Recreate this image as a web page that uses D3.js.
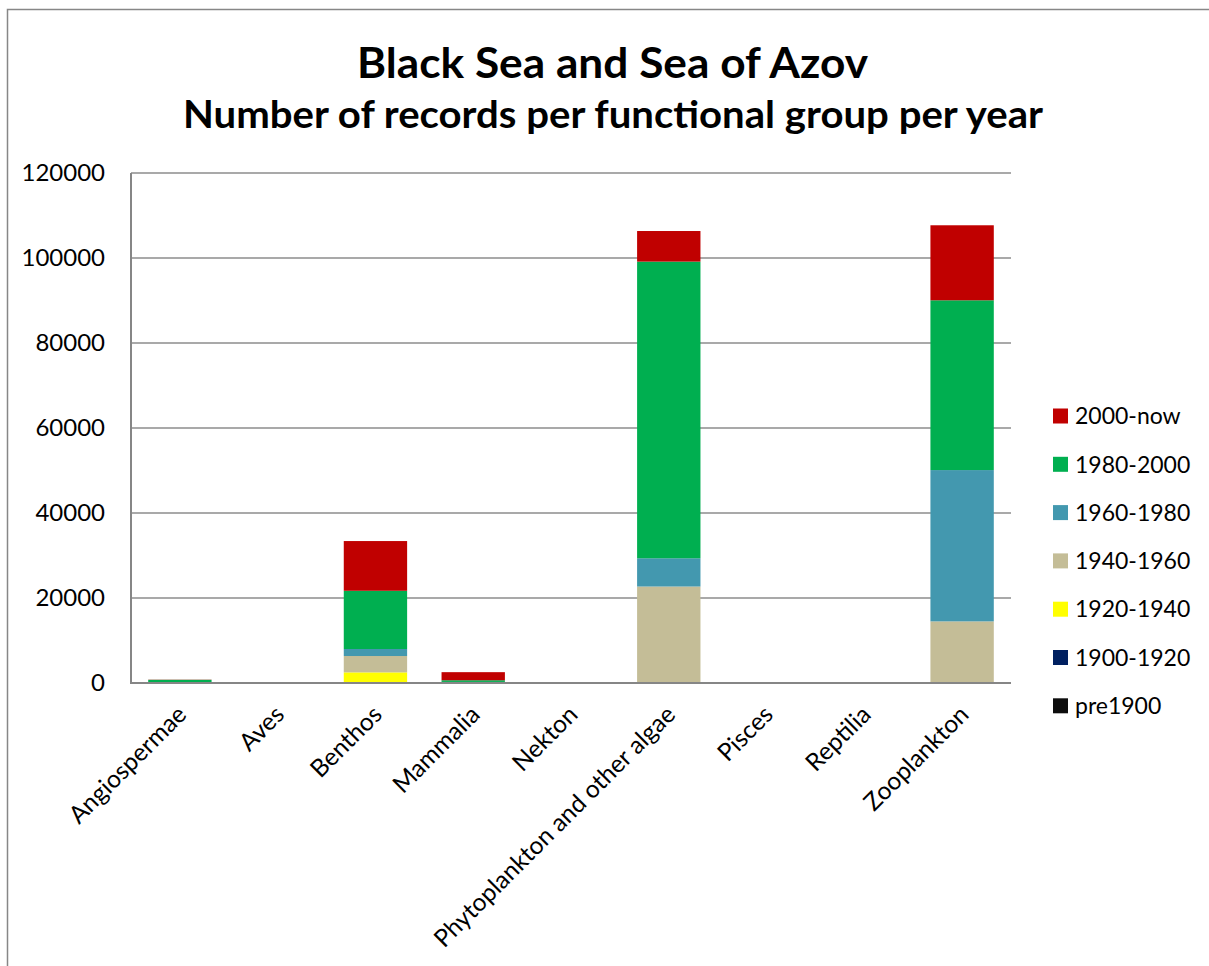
<!DOCTYPE html>
<html>
<head>
<meta charset="utf-8">
<script src="https://cdn.jsdelivr.net/npm/d3@7"></script>
<style>
  html, body { margin: 0; padding: 0; background: #fff; }
  svg { display: block; }
  text { font-family: Lato, "Open Sans", sans-serif; fill: #000; }
</style>
</head>
<body>
<svg id="chart" width="1209" height="966"></svg>
<script>
// ---------- data ----------
const categories = ["Angiospermae", "Aves", "Benthos", "Mammalia", "Nekton",
  "Phytoplankton and other algae", "Pisces", "Reptilia", "Zooplankton"];
const seriesNames = ["pre1900", "1900-1920", "1920-1940", "1940-1960", "1960-1980", "1980-2000", "2000-now"];
const pre1900    = [0, 0, 0,     0,    0, 0,     0, 0, 0];
const y1900_1920 = [0, 0, 0,     0,    0, 0,     0, 0, 0];
const y1920_1940 = [0, 0, 2500,  0,    0, 0,     0, 0, 0];
const y1940_1960 = [100, 0, 3850, 150, 0, 22700, 0, 0, 14500];
const y1960_1980 = [50, 0, 1650, 100,  0, 6650,  0, 0, 35600];
const y1980_2000 = [600, 0, 13700, 400, 0, 69800, 0, 0, 39950];
const y2000_now  = [50, 0, 11700, 1900, 0, 7200,  0, 0, 17650];
const seriesColors = ["#0D0D0D", "#002060", "#FFFF00", "#C4BD97", "#4398AF", "#00AF50", "#C00000"];
const yTicks = [0, 20000, 40000, 60000, 80000, 100000, 120000];
const titleLine1 = "Black Sea and Sea of Azov";
const titleLine2 = "Number of records per functional group per year";

// ---------- build table ----------
const seriesValues = [pre1900, y1900_1920, y1920_1940, y1940_1960, y1960_1980, y1980_2000, y2000_now];
const table = categories.map((c, i) => {
  const row = { category: c };
  seriesNames.forEach((s, j) => { row[s] = seriesValues[j][i]; });
  return row;
});
const stacked = d3.stack().keys(seriesNames)(table);

// ---------- layout ----------
const svg = d3.select("#chart");
const plot = { left: 131, right: 1011, top: 173, bottom: 683 };

const x = d3.scaleBand().domain(categories).range([plot.left, plot.right])
  .paddingInner(0.352).paddingOuter(0.176);
const y = d3.scaleLinear().domain([0, 120000]).range([plot.bottom, plot.top]);
const color = d3.scaleOrdinal().domain(seriesNames).range(seriesColors);

// outer frame
svg.append("rect").attr("x", 7.5).attr("y", 9.5).attr("width", 1400).attr("height", 1200)
  .attr("fill", "none").attr("stroke", "#878787").attr("stroke-width", 1.5);

// title
svg.append("text").attr("x", 612.5).attr("y", 78).attr("text-anchor", "middle")
  .attr("font-size", 42).attr("font-weight", "bold")
  .attr("textLength", 511).attr("lengthAdjust", "spacingAndGlyphs").text(titleLine1);
svg.append("text").attr("x", 613).attr("y", 128).attr("text-anchor", "middle")
  .attr("font-size", 38).attr("font-weight", "bold")
  .attr("textLength", 860).attr("lengthAdjust", "spacingAndGlyphs").text(titleLine2);

// gridlines
svg.append("g").selectAll("line").data(yTicks.filter(t => t > 0)).join("line")
  .attr("x1", plot.left).attr("x2", plot.right)
  .attr("y1", d => y(d)).attr("y2", d => y(d))
  .attr("stroke", "#8c8c8c").attr("stroke-width", 1.5);

// bars
svg.append("g").selectAll("g").data(stacked).join("g")
  .attr("fill", d => color(d.key))
  .selectAll("rect").data(d => d).join("rect")
  .attr("x", d => x(d.data.category))
  .attr("width", x.bandwidth())
  .attr("y", d => y(d[1]))
  .attr("height", d => Math.max(0, y(d[0]) - y(d[1])));

// axes lines
svg.append("line").attr("x1", plot.left).attr("x2", plot.left)
  .attr("y1", plot.top).attr("y2", plot.bottom)
  .attr("stroke", "#868686").attr("stroke-width", 2);
svg.append("line").attr("x1", plot.left - 1).attr("x2", plot.right)
  .attr("y1", plot.bottom).attr("y2", plot.bottom)
  .attr("stroke", "#868686").attr("stroke-width", 2);

// y tick labels
const yAxis = d3.axisLeft(y).tickValues(yTicks).tickSize(0).tickPadding(26).tickFormat(d3.format("d"));
const yg = svg.append("g").attr("transform", `translate(${plot.left},0)`).call(yAxis);
yg.select(".domain").remove();
yg.selectAll("text").attr("font-size", 24).attr("font-family", "Lato, sans-serif").attr("fill", "#000");

// x labels (rotated)
svg.append("g").selectAll("text").data(categories).join("text")
  .attr("transform", d => `translate(${x(d) + x.bandwidth() / 2 + 2},${plot.bottom + 27}) rotate(-45)`)
  .attr("text-anchor", "end")
  .attr("dy", "0.35em")
  .attr("font-size", 24.5)
  .text(d => d);

// legend
const legendNames = seriesNames.slice().reverse();
const lg = svg.append("g").selectAll("g").data(legendNames).join("g")
  .attr("transform", (d, i) => `translate(1053,${408.5 + i * 48.3})`);
lg.append("rect").attr("width", 15).attr("height", 15).attr("fill", d => color(d));
lg.append("text").attr("x", 22).attr("y", 7.5).attr("dy", "0.36em")
  .attr("font-size", 23).text(d => d);
</script>
</body>
</html>
